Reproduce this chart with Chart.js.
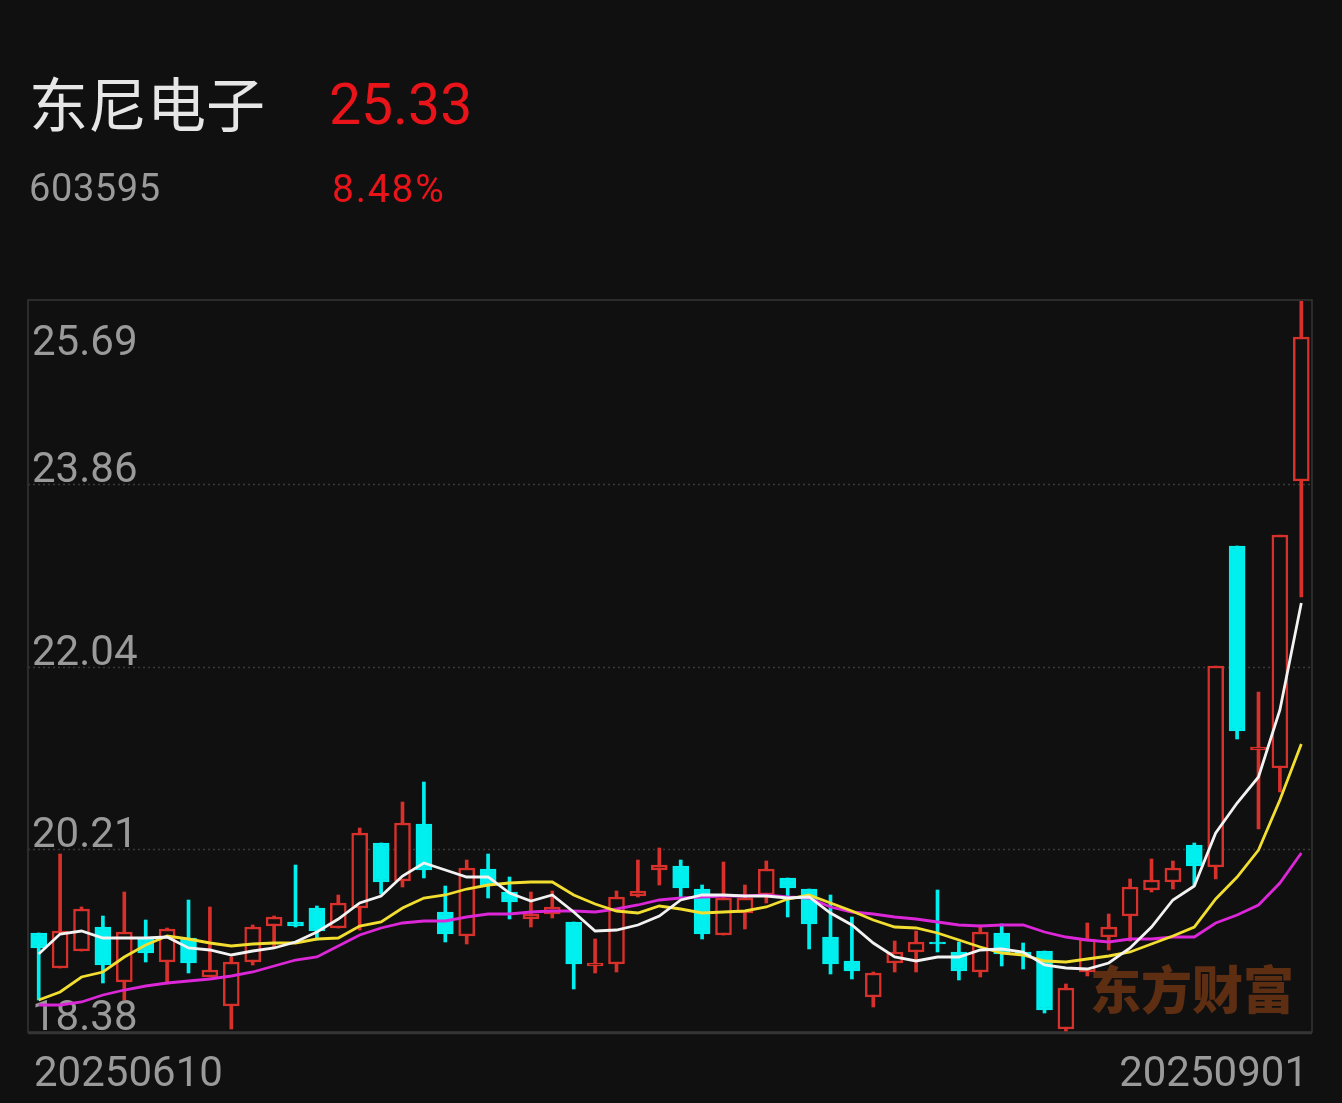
<!DOCTYPE html>
<html>
<head>
<meta charset="utf-8">
<title>东尼电子 603595</title>
<script src="https://cdn.jsdelivr.net/npm/chart.js@4.4.1/dist/chart.umd.min.js"></script>
<style>
  html, body { margin: 0; padding: 0; background: #101010; }
  #wrap { position: relative; width: 1342px; height: 1103px; overflow: hidden; }
  #kline { position: absolute; left: 0; top: 0; }
  .txt { position: absolute; white-space: nowrap; line-height: 1; }
  #name { left: 29px; top: 59px; font: 59px "Noto Sans CJK SC", sans-serif; color: #e6e6e6; }
  #price { left: 329px; top: 71px; font: 57px Roboto, sans-serif; color: #e8141a; }
  #code { left: 29px; top: 166px; font: 38px Roboto, sans-serif; color: #9a9a9a; letter-spacing: 0.6px; }
  #pct { left: 332px; top: 166px; font: 39px Roboto, sans-serif; color: #e8141a; letter-spacing: 1.8px; }
</style>
</head>
<body>
<div id="wrap">
  <canvas id="kline" width="1342" height="1103"></canvas>
  <div class="txt" id="name">东尼电子</div>
  <div class="txt" id="price">25.33</div>
  <div class="txt" id="code">603595</div>
  <div class="txt" id="pct">8.48%</div>
</div>
<script>
// 交易日
const dates = [
  "20250610", "20250611", "20250612", "20250613", "20250616", "20250617", "20250618", "20250619", "20250620", "20250623",
  "20250624", "20250625", "20250626", "20250627", "20250630", "20250701", "20250702", "20250703", "20250704", "20250707",
  "20250708", "20250709", "20250710", "20250711", "20250714", "20250715", "20250716", "20250717", "20250718", "20250721",
  "20250722", "20250723", "20250724", "20250725", "20250728", "20250729", "20250730", "20250731", "20250801", "20250804",
  "20250805", "20250806", "20250807", "20250808", "20250811", "20250812", "20250813", "20250814", "20250815", "20250818",
  "20250819", "20250820", "20250821", "20250822", "20250825", "20250826", "20250827", "20250828", "20250829", "20250901",
];

// K线 开 高 低 收
const opens = [
  19.37, 19.02, 19.19, 19.43, 18.88, 19.31, 19.08, 19.32, 18.93, 18.64,
  19.08, 19.44, 19.48, 19.62, 19.42, 19.62, 20.27, 19.89, 20.46, 19.58,
  19.34, 20.01, 19.78, 19.51, 19.56, 19.48, 19.04, 19.06, 19.74, 20.00,
  20.04, 19.81, 19.35, 19.57, 19.75, 19.92, 19.81, 19.33, 19.09, 18.73,
  19.07, 19.18, 19.28, 19.18, 18.98, 19.37, 19.18, 19.19, 18.41, 18.98,
  19.33, 19.54, 19.80, 19.88, 20.25, 20.03, 23.24, 21.20, 21.02, 23.89,
];
const highs = [
  19.37, 20.16, 19.63, 19.54, 19.78, 19.50, 19.42, 19.70, 19.63, 19.13,
  19.45, 19.54, 20.05, 19.64, 19.75, 20.42, 20.27, 20.68, 20.88, 19.84,
  20.10, 20.16, 19.93, 19.78, 19.79, 19.48, 19.31, 19.79, 20.10, 20.22,
  20.10, 19.85, 20.08, 19.85, 20.09, 19.92, 19.81, 19.75, 19.53, 18.98,
  19.29, 19.39, 19.80, 19.28, 19.45, 19.46, 19.27, 19.19, 18.86, 19.47,
  19.56, 19.91, 20.11, 20.09, 20.27, 22.04, 23.24, 21.78, 23.35, 25.69,
];
const lows = [
  18.70, 19.02, 19.19, 18.87, 18.70, 19.08, 18.86, 18.97, 18.93, 18.41,
  19.05, 19.23, 19.43, 19.30, 19.42, 19.40, 19.76, 19.83, 19.92, 19.28,
  19.26, 19.72, 19.51, 19.43, 19.52, 18.81, 18.97, 18.98, 19.73, 19.85,
  19.72, 19.31, 19.35, 19.41, 19.67, 19.53, 19.21, 18.96, 18.91, 18.63,
  18.98, 18.98, 19.18, 18.90, 18.93, 19.04, 19.01, 18.57, 18.39, 18.94,
  19.20, 19.29, 19.78, 19.81, 19.85, 19.91, 21.31, 20.41, 20.78, 22.73,
];
const closes = [
  19.22, 19.39, 19.61, 19.05, 19.38, 19.17, 19.41, 19.07, 19.00, 19.08,
  19.43, 19.53, 19.44, 19.39, 19.67, 20.37, 19.88, 20.47, 20.00, 19.36,
  20.02, 19.85, 19.68, 19.56, 19.63, 19.06, 19.07, 19.73, 19.79, 20.05,
  19.82, 19.36, 19.72, 19.72, 20.01, 19.82, 19.46, 19.06, 18.99, 18.97,
  19.18, 19.28, 19.26, 18.99, 19.38, 19.16, 19.15, 18.60, 18.82, 19.31,
  19.43, 19.83, 19.90, 20.02, 20.04, 22.04, 21.39, 21.23, 23.35, 25.33,
];

// 均线
const ma5 = [
  19.16, 19.36, 19.39, 19.32, 19.32, 19.32, 19.33, 19.22, 19.20, 19.15,
  19.19, 19.22, 19.28, 19.38, 19.51, 19.67, 19.74, 19.94, 20.07, 20.00,
  19.93, 19.93, 19.77, 19.69, 19.75, 19.58, 19.39, 19.40, 19.45, 19.54,
  19.70, 19.75, 19.75, 19.74, 19.74, 19.72, 19.73, 19.57, 19.45, 19.27,
  19.13, 19.09, 19.13, 19.13, 19.20, 19.21, 19.18, 19.05, 19.02, 19.01,
  19.07, 19.22, 19.43, 19.70, 19.84, 20.37, 20.67, 20.93, 21.60, 22.67,
];
const ma10 = [
  18.70, 18.78, 18.93, 18.98, 19.13, 19.25, 19.34, 19.31, 19.27, 19.24,
  19.26, 19.27, 19.27, 19.31, 19.32, 19.44, 19.48, 19.62, 19.72, 19.75,
  19.81, 19.85, 19.87, 19.88, 19.88, 19.75, 19.66, 19.59, 19.57, 19.64,
  19.61, 19.57, 19.58, 19.59, 19.63, 19.71, 19.75, 19.67, 19.59, 19.50,
  19.43, 19.42, 19.37, 19.30, 19.23, 19.17, 19.15, 19.09, 19.08, 19.11,
  19.14, 19.18, 19.26, 19.34, 19.43, 19.71, 19.93, 20.20, 20.70, 21.26,
];
const ma20 = [
  18.65, 18.65, 18.68, 18.75, 18.80, 18.84, 18.87, 18.89, 18.91, 18.94,
  18.98, 19.04, 19.10, 19.13, 19.24, 19.35, 19.42, 19.47, 19.49, 19.49,
  19.53, 19.56, 19.56, 19.58, 19.59, 19.59, 19.58, 19.61, 19.65, 19.70,
  19.72, 19.73, 19.74, 19.74, 19.75, 19.73, 19.72, 19.63, 19.58, 19.56,
  19.53, 19.51, 19.48, 19.45, 19.44, 19.45, 19.45, 19.38, 19.33, 19.30,
  19.28, 19.31, 19.31, 19.33, 19.33, 19.47, 19.55, 19.65, 19.87, 20.17,
];

// 纵轴刻度
const yMin = 18.38;
const yMax = 25.69;
const yTicks = [18.38, 20.2075, 22.035, 23.8625, 25.69];
const yTickLabels = ["18.38", "20.21", "22.04", "23.86", "25.69"];

const BG = "#101010";
const UP = "#d8302b";
const DOWN = "#00f0f0";

const isUp = (i) => closes[i] >= opens[i];

// 网格、边框、水印、刻度文字
const frame = {
  id: "frame",
  beforeDatasetsDraw(chart) {
    const { ctx, chartArea: a, scales } = chart;
    const y = scales.y;
    ctx.save();
    // 虚线网格
    ctx.strokeStyle = "#3a3a3a";
    ctx.lineWidth = 1.5;
    ctx.setLineDash([2, 3]);
    yTicks.slice(1, -1).forEach((v) => {
      const py = Math.round(y.getPixelForValue(v)) + 0.5;
      ctx.beginPath();
      ctx.moveTo(a.left, py);
      ctx.lineTo(a.right, py);
      ctx.stroke();
    });
    ctx.setLineDash([]);
    // 外框
    ctx.strokeStyle = "#353535";
    ctx.lineWidth = 1.5;
    ctx.strokeRect(a.left, a.top - 1, a.right - a.left, a.bottom - a.top + 1);
    ctx.lineWidth = 2.5;
    ctx.beginPath();
    ctx.moveTo(a.left, a.bottom + 1);
    ctx.lineTo(a.right, a.bottom + 1);
    ctx.stroke();

    // 水印
    ctx.fillStyle = "#5e2e13";
    ctx.font = '900 51px "Noto Sans CJK SC", sans-serif';
    ctx.textAlign = "right";
    ctx.textBaseline = "alphabetic";
    ctx.fillText("东方财富", a.right - 18, a.bottom - 23);

    // 纵轴文字
    ctx.fillStyle = "#9a9a9a";
    ctx.font = "42px Roboto, sans-serif";
    ctx.textAlign = "left";
    yTicks.forEach((v, i) => {
      const py = y.getPixelForValue(v);
      const base = Math.max(py - 2, a.top + 54);
      ctx.fillText(yTickLabels[i], a.left + 4, base);
    });
    ctx.restore();
  },
  afterDraw(chart) {
    const { ctx, chartArea: a } = chart;
    ctx.save();
    ctx.fillStyle = "#9a9a9a";
    ctx.font = "42px Roboto, sans-serif";
    ctx.textBaseline = "alphabetic";
    ctx.textAlign = "left";
    ctx.fillText(dates[0], a.left + 6, a.bottom + 54);
    ctx.textAlign = "right";
    ctx.fillText(dates[dates.length - 1], a.right - 4, a.bottom + 54);
    ctx.restore();
  },
};

const ctx = document.getElementById("kline").getContext("2d");
const klineChart = new Chart(ctx, {
  data: {
    labels: dates,
    datasets: [
      {
        type: "line",
        label: "MA5",
        data: ma5,
        borderColor: "#f2f2f2",
        borderWidth: 2.8,
        pointRadius: 0,
        tension: 0,
        order: 0,
      },
      {
        type: "line",
        label: "MA10",
        data: ma10,
        borderColor: "#f2de30",
        borderWidth: 2.8,
        pointRadius: 0,
        tension: 0,
        order: 0,
      },
      {
        type: "line",
        label: "MA20",
        data: ma20,
        borderColor: "#dc27d8",
        borderWidth: 2.8,
        pointRadius: 0,
        tension: 0,
        order: 0,
      },
      {
        type: "bar",
        label: "实体",
        data: opens.map((o, i) => [o, closes[i]]),
        grouped: false,
        barThickness: 16,
        borderWidth: 2.5,
        borderSkipped: false,
        backgroundColor: (c) => (isUp(c.dataIndex) ? BG : DOWN),
        borderColor: (c) => (isUp(c.dataIndex) ? UP : DOWN),
        order: 1,
      },
      {
        type: "bar",
        label: "影线",
        data: lows.map((l, i) => [l, highs[i]]),
        grouped: false,
        barThickness: 3,
        borderWidth: 0,
        backgroundColor: (c) => (isUp(c.dataIndex) ? UP : DOWN),
        order: 2,
      },
    ],
  },
  options: {
    responsive: false,
    devicePixelRatio: 1,
    animation: false,
    layout: { padding: { left: 28, top: 301, right: 30, bottom: 71 } },
    scales: {
      x: { type: "category", offset: true, display: false },
      y: { type: "linear", min: yMin, max: yMax, display: false },
    },
    plugins: {
      legend: { display: false },
      tooltip: { enabled: false },
    },
  },
  plugins: [frame],
});
</script>
</body>
</html>
